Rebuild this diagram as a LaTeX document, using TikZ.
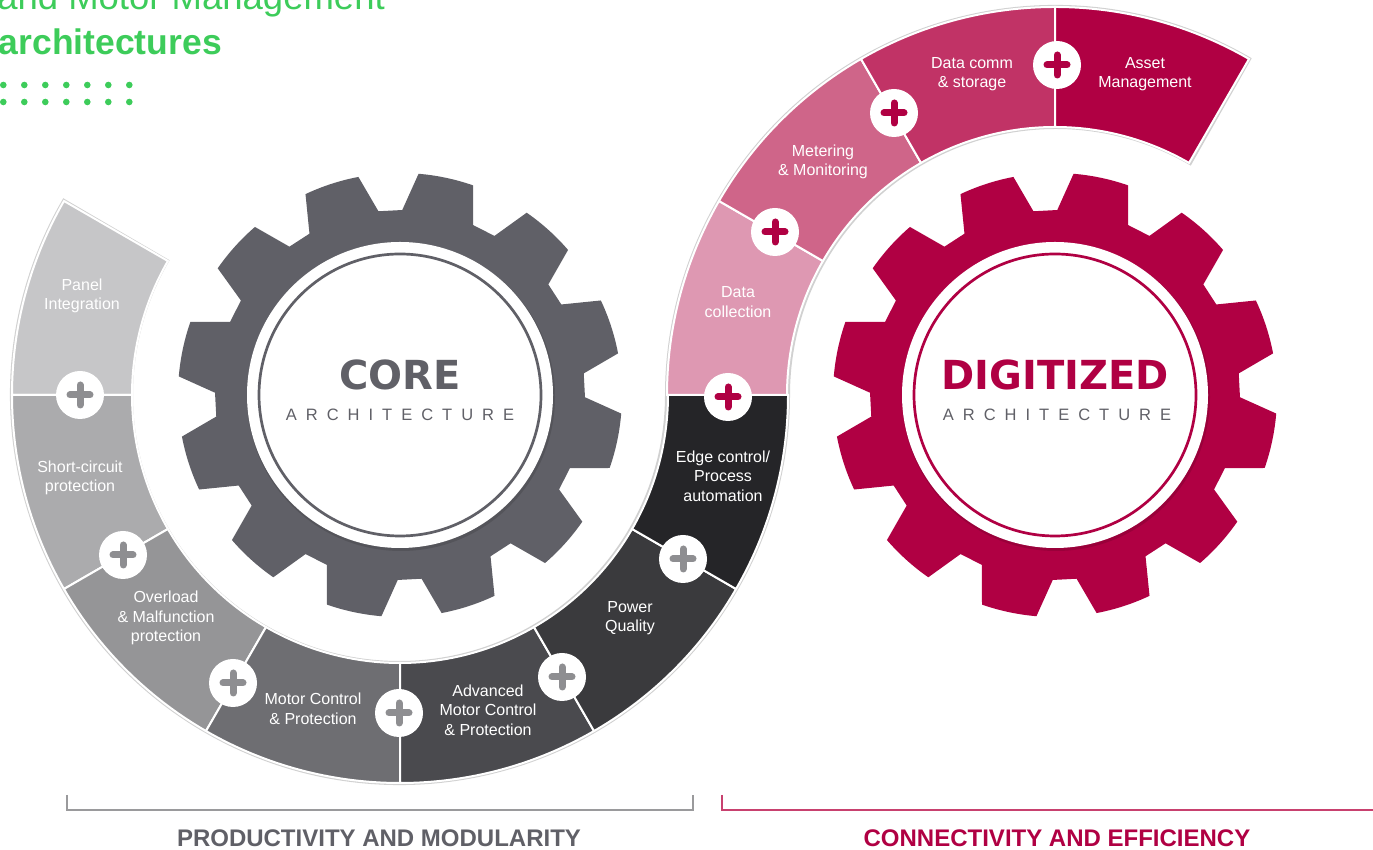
\documentclass[tikz,border=0pt]{standalone}
\usepackage{fontspec}
\setmainfont{Liberation Sans}
\newfontfamily\heavyfont{DejaVu Sans}
\usetikzlibrary{calc}
\definecolor{segA}{HTML}{C6C6C8}
\definecolor{segB}{HTML}{ABABAD}
\definecolor{segC}{HTML}{959597}
\definecolor{segD}{HTML}{6E6E72}
\definecolor{segE}{HTML}{4A4A4E}
\definecolor{segF}{HTML}{3A3A3D}
\definecolor{segG}{HTML}{252528}
\definecolor{pinkA}{HTML}{DE98B2}
\definecolor{pinkB}{HTML}{CF6589}
\definecolor{pinkC}{HTML}{C13366}
\definecolor{pinkD}{HTML}{B00043}
\definecolor{coregray}{HTML}{606067}
\definecolor{crimson}{HTML}{B00043}
\definecolor{plusgray}{HTML}{8E8E91}
\definecolor{tgreen}{HTML}{3DCC5A}
\definecolor{brgray}{HTML}{9A9A9C}
\definecolor{brred}{HTML}{C8416F}
\newcommand\bandseg[5]{%
  \fill[#5, draw=white, line width=2pt] ($(#1,#2)+(#3:388pt)$) arc[start angle=#3,end angle=#4,radius=388pt]
    -- ($(#1,#2)+(#4:268pt)$) arc[start angle=#4,end angle=#3,radius=268pt] -- cycle;}
\newcommand\gearshape[3]{%
  \begin{scope}[shift={(#1,#2)}]
    \fill[#3] (-4.8:222pt) \foreach \k in {0,...,11}{
      -- ({3+30*\k-7.8}:222pt) -- ({3+30*\k-3.7}:185pt) -- ({3+30*\k+3.7}:185pt)
      -- ({3+30*\k+7.8}:222pt) arc[start angle={3+30*\k+7.8}, end angle={3+30*\k+22.2}, radius=222pt]} -- cycle;
    \fill[black, opacity=0.12] (1,-2) circle[radius=154pt];
    \fill[white] (0,0) circle[radius=153pt];
    \draw[#3, line width=2.7pt] (0,0) circle[radius=141pt];
  \end{scope}}
\newcommand\archword{A\kern9pt R\kern9pt C\kern9pt H\kern9pt I\kern9pt T\kern9pt E\kern9pt C\kern9pt T\kern9pt U\kern9pt R\kern9pt E}
\tikzset{
  plusnode/.style={circle, fill=white, minimum size=48pt, inner sep=0pt,
    path picture={\draw[#1, line width=7pt, line cap=round]
      ([xshift=-10pt]path picture bounding box.center) -- ([xshift=10pt]path picture bounding box.center)
      ([yshift=-10pt]path picture bounding box.center) -- ([yshift=10pt]path picture bounding box.center);}},
  seglabel/.style={text=white, align=center, inner sep=0pt, font=\fontsize{16}{19.5}\selectfont},
  archlabel/.style={text=coregray, inner sep=0pt, font=\fontsize{16.5}{18}\selectfont},
  bottomlabel/.style={anchor=base, inner sep=0pt, font=\fontsize{24}{24}\selectfont\bfseries},
}
\begin{document}
\begin{tikzpicture}[x=1pt,y=1pt]
\useasboundingbox (0,0) rectangle (1373,850);
% faint rim of the band
\draw[black!18, line width=4pt] ($(400,455)+(150:388pt)$) arc[start angle=150,end angle=360,radius=388pt]
   arc[start angle=180,end angle=60,radius=268pt] -- ($(1055,455)+(60:388pt)$)
   arc[start angle=60,end angle=180,radius=388pt] arc[start angle=0,end angle=-210,radius=268pt] -- cycle;
% lower arc (core)
\bandseg{400}{455}{150}{180}{segA}
\bandseg{400}{455}{180}{210}{segB}
\bandseg{400}{455}{210}{240}{segC}
\bandseg{400}{455}{240}{270}{segD}
\bandseg{400}{455}{270}{300}{segE}
\bandseg{400}{455}{300}{330}{segF}
\bandseg{400}{455}{330}{360}{segG}
% upper arc (digitized)
\bandseg{1055}{455}{150}{180}{pinkA}
\bandseg{1055}{455}{120}{150}{pinkB}
\bandseg{1055}{455}{90}{120}{pinkC}
\bandseg{1055}{455}{60}{90}{pinkD}
% gears
\gearshape{400}{455}{coregray}
\gearshape{1055}{455}{crimson}
% gear texts
\node[text=coregray, inner sep=0pt, font=\heavyfont\bfseries\fontsize{40}{40}\selectfont] (core) at (400,475) {CORE};
\node[archlabel] (corearch) at (400,435) {\archword};
\node[text=crimson, inner sep=0pt, font=\heavyfont\bfseries\fontsize{40}{40}\selectfont] (digi) at (1055,475) {DIGITIZED};
\node[archlabel] (digiarch) at (1057,435) {\archword};
% segment labels
\node[seglabel] (l1) at (82,554) {Panel\\Integration};
\node[seglabel] (l2) at (80,372) {Short-circuit\\protection};
\node[seglabel] (l3) at (166,232) {Overload\\\& Malfunction\\protection};
\node[seglabel] (l4) at (313,141) {Motor Control\\\& Protection};
\node[seglabel] (l5) at (488,140) {Advanced\\Motor Control\\\& Protection};
\node[seglabel] (l6) at (630,232) {Power\\Quality};
\node[seglabel] (l7) at (723,374) {Edge control/\\Process\\automation};
\node[seglabel] (l8) at (738,548) {Data\\collection};
\node[seglabel] (l9) at (823,688) {Metering\\\& Monitoring};
\node[seglabel] (l10) at (972,776) {Data comm\\\& storage};
\node[seglabel] (l11) at (1145,776) {Asset\\Management};
% plus markers
\node[plusnode=plusgray] (p1) at (80,455) {};
\node[plusnode=plusgray] (p2) at (123,295) {};
\node[plusnode=plusgray] (p3) at (233,167) {};
\node[plusnode=plusgray] (p4) at (399,137) {};
\node[plusnode=plusgray] (p5) at (562,173) {};
\node[plusnode=plusgray] (p6) at (683,291) {};
\node[plusnode=crimson] (p7) at (728,453) {};
\node[plusnode=crimson] (p8) at (775,618) {};
\node[plusnode=crimson] (p9) at (894,737) {};
\node[plusnode=crimson] (p10) at (1057,785) {};
% title
\node[anchor=base east, text=tgreen, inner sep=0pt, font=\fontsize{36.5}{36.5}\selectfont] (t1) at (385,840) {and Motor Management};
\node[anchor=base east, text=tgreen, inner sep=0pt, font=\fontsize{35.5}{35.5}\selectfont\bfseries] (t2) at (222,795) {architectures};
\foreach \i in {0,...,6} \foreach \j in {765,748} \fill[tgreen] ({3.3+21*\i},\j) circle[radius=3.3pt];
% brackets
\coordinate (g1) at (67,55); \coordinate (g2) at (67,40); \coordinate (g3) at (693,40); \coordinate (g4) at (693,55);
\draw[brgray, line width=1.3pt] (g1) -- (g2) -- (g3) -- (g4);
\coordinate (r1) at (722,55); \coordinate (r2) at (722,40); \coordinate (r3) at (1373,40);
\draw[brred, line width=1.3pt] (r1) -- (r2) -- (r3);
\node[bottomlabel, text=coregray] (b1) at (379,3) {PRODUCTIVITY AND MODULARITY};
\node[bottomlabel, text=crimson] (b2) at (1057,3) {CONNECTIVITY AND EFFICIENCY};
\end{tikzpicture}
\end{document}
